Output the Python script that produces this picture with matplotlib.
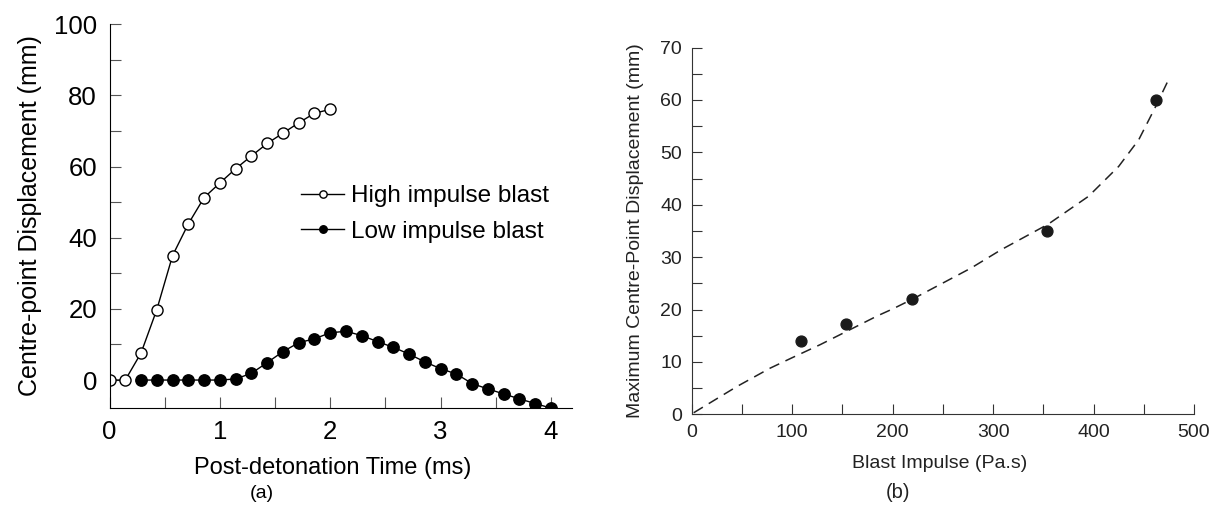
import numpy as np
import matplotlib
matplotlib.use("Agg")
import matplotlib.pyplot as plt
from matplotlib.ticker import MultipleLocator

plt.rcParams['font.family'] = ['Liberation Sans', 'DejaVu Sans']

# ---- Panel (a) data ----
dt = 1.0 / 7.0
high_t_idx = list(range(0, 15))
high_disp = [0, 0, 7.6, 19.8, 35.0, 43.9, 51.3, 55.4, 59.4, 63.0, 66.5, 69.4, 72.3, 75.0, 76.1]
low_t_idx = list(range(2, 29))
low_disp = [0, 0, 0, 0, 0, 0, 0.3, 1.9, 4.9, 8.0, 10.5, 11.6, 13.3, 13.7, 12.5, 10.8,
            9.2, 7.3, 5.1, 3.2, 1.7, -1.0, -2.5, -3.9, -5.3, -6.6, -7.9]
high_t = [i * dt for i in high_t_idx]
low_t = [i * dt for i in low_t_idx]

# ---- Panel (b) data ----
impulse_pts = [109, 154, 219, 354, 462]
maxdisp_pts = [14.0, 17.3, 22.0, 35.0, 60.0]
fit_x = [2, 45, 78, 100, 128, 155, 185, 200, 220, 278, 308, 355, 395, 425, 445, 462, 475]
fit_y = [0.3, 5.3, 8.8, 10.8, 13.3, 15.9, 18.8, 20.1, 22.0, 27.9, 31.4, 36.3, 41.6, 47.3, 52.4, 58.8, 64.0]

W, H = 1212, 522
fig = plt.figure(figsize=(W / 100, H / 100), dpi=100)

def rect(l, r, b, t):
    return [l / W, 1 - b / H, (r - l) / W, (b - t) / H]

# ---------- (a) ----------
ax1 = fig.add_axes(rect(109.5, 572, 407.8, 24.3))
ax1.plot(high_t, high_disp, '-', color='black', lw=1.0, marker='o', ms=8,
         mfc='white', mec='black', mew=1.0, label='High impulse blast')
ax1.plot(low_t, low_disp, '-', color='black', lw=1.0, marker='o', ms=8.2,
         mfc='black', mec='black', label='Low impulse blast', zorder=3)
ax1.set_xlim(0, 4.19)
ax1.set_ylim(-7.8, 100)
ax1.spines['top'].set_visible(False)
ax1.spines['right'].set_visible(False)
ax1.xaxis.set_major_locator(MultipleLocator(1))
ax1.xaxis.set_minor_locator(MultipleLocator(0.5))
ax1.yaxis.set_major_locator(MultipleLocator(20))
ax1.yaxis.set_minor_locator(MultipleLocator(10))
ax1.tick_params(which='both', direction='in', length=8, width=0.8, color='#555555')
ax1.tick_params(which='major', labelsize=18.5, pad=9)
ax1.set_xlabel('Post-detonation Time (ms)', fontsize=17)
ax1.set_ylabel('Centre-point Displacement (mm)', fontsize=18)
ax1.xaxis.set_label_coords((333 - 109.5) / (572 - 109.5), -0.128)
ax1.yaxis.set_label_coords(-0.146, 0.5)
leg = ax1.legend(loc='upper left', bbox_to_anchor=(0.415, 0.58), frameon=False,
                 fontsize=17.5, handlelength=1.75, handletextpad=0.3,
                 markerscale=0.66, borderpad=0, borderaxespad=0, labelspacing=0.55)

fig.text(262 / W, 1 - 493 / H, '(a)', fontsize=14, ha='center', va='center')

# ---------- (b) ----------
ax2 = fig.add_axes(rect(691.7, 1194, 414.3, 47.5))
ax2.plot(fit_x, fit_y, color='#222222', lw=1.1, dashes=(7, 4.5))
ax2.plot(impulse_pts, maxdisp_pts, 'o', color='#1a1a1a', ms=7.8, zorder=3)
ax2.set_xlim(0, 500)
ax2.set_ylim(0, 70)
ax2.spines['top'].set_visible(False)
ax2.spines['right'].set_visible(False)
for s in ['left', 'bottom']:
    ax2.spines[s].set_color('#333333')
ax2.xaxis.set_major_locator(MultipleLocator(100))
ax2.xaxis.set_minor_locator(MultipleLocator(50))
ax2.yaxis.set_major_locator(MultipleLocator(10))
ax2.yaxis.set_minor_locator(MultipleLocator(5))
ax2.tick_params(which='both', direction='in', length=7, width=0.8, color='#333333')
ax2.tick_params(which='major', labelsize=14, pad=7, labelcolor='#222222')
ax2.set_xlabel('Blast Impulse (Pa.s)', fontsize=14, color='#222222')
ax2.set_ylabel('Maximum Centre-Point Displacement (mm)', fontsize=14, color='#222222')
ax2.xaxis.set_label_coords((940 - 691.7) / (1194 - 691.7), -0.111)
ax2.yaxis.set_label_coords(-0.095, 0.5)

fig.text(898 / W, 1 - 493 / H, '(b)', fontsize=14.5, ha='center', va='center', color='#222222')

fig.savefig('out.png', dpi=100)
